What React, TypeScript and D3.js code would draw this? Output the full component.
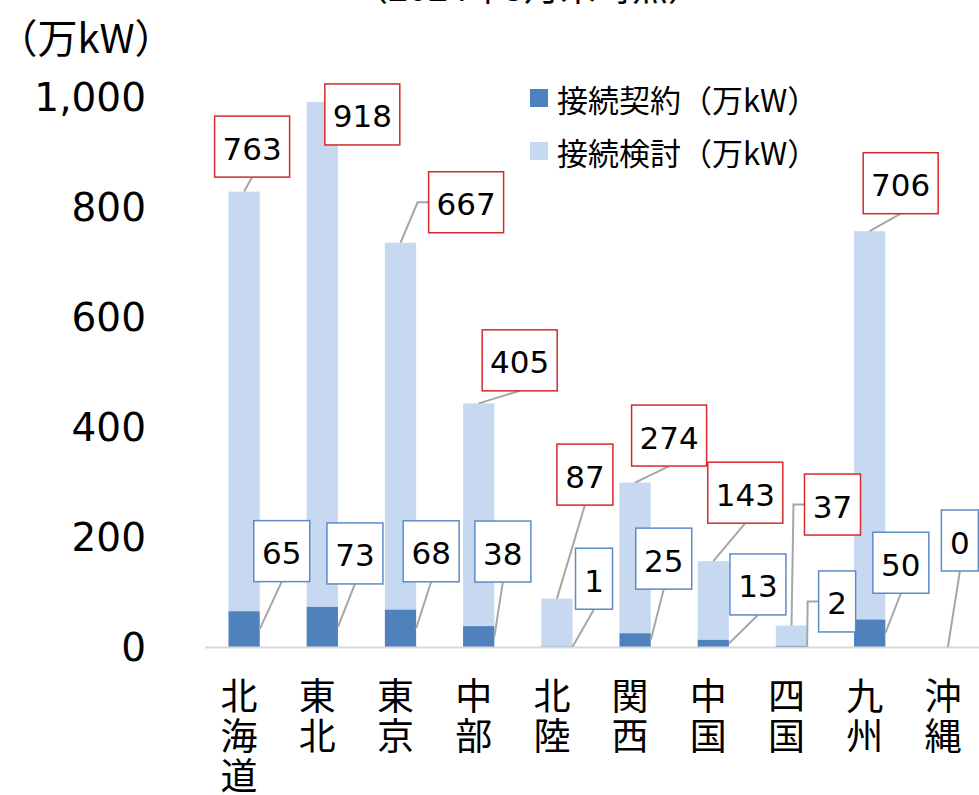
import React from "react";
import * as d3 from "d3";

const categories = ["北海道", "東北", "東京", "中部", "北陸", "関西", "中国", "四国", "九州", "沖縄"];
const contractValues = [65, 73, 68, 38, 1, 25, 13, 2, 50, 0];
const considerValues = [763, 918, 667, 405, 87, 274, 143, 37, 706, 0];
const yTicks = [0, 200, 400, 600, 800, 1000];
const seriesNames = ["接続契約（万kW）", "接続検討（万kW）"];
const titleText = "（2024年3月末時点）";
const yUnit = "（万kW）";

// label layout offsets (box centre relative to anchor), px
const considerOffsets: ([number, number] | null)[] = [
  [8, -45], [40, 12.5], [65.6, -40.5], [41, -43], [28, -124], [34, -47], [32, -68.5], [41, -121], [31, -48], null,
];
const contractOffsets: [number, number][] = [
  [22, -78], [17, -73.5], [15, -77], [8.5, -85], [21.5, -68], [13, -81.5], [29, -59], [30, -45], [15.5, -70.5], [12, -106.5],
];

const W = 979;
const H = 795;
const DARK = "#4f81bd";
const LIGHT = "#c6d9f0";
const RED = "#d42a2a";
const BLUE_BORDER = "#5b8bc9";
const LEADER = "#a6a6a6";

export default function App() {
  const x = d3.scaleBand<string>().domain(categories).range([205, 987]).paddingInner(0.6).paddingOuter(0.3);
  const y = d3.scaleLinear().domain([0, 1000]).range([647, 97]);
  const bw = x.bandwidth();
  const numFmt = d3.format(",");

  type Lbl = { key: string; text: string; ax: number; ay: number; cx: number; cy: number; color: string };
  const labels: Lbl[] = [];
  categories.forEach((c, i) => {
    const cxBar = (x(c) as number) + bw / 2;
    const off = considerOffsets[i];
    if (off) {
      const ax = cxBar;
      const ay = y(contractValues[i] + considerValues[i]);
      labels.push({ key: "t" + i, text: String(considerValues[i]), ax, ay, cx: ax + off[0], cy: ay + off[1], color: RED });
    }
    const o2 = contractOffsets[i];
    const ax2 = contractValues[i] === 0 ? cxBar : cxBar + bw / 2;
    const ay2 = y(contractValues[i] / 2);
    labels.push({ key: "c" + i, text: String(contractValues[i]), ax: ax2, ay: ay2, cx: ax2 + o2[0], cy: ay2 + o2[1], color: BLUE_BORDER });
  });

  const boxH = 61;
  const boxW = (t: string) => t.length * 19 + 18;

  const leaders = labels.map((l) => {
    const w = boxW(l.text);
    const left = l.cx - w / 2;
    const top = l.cy - boxH / 2;
    const bottom = l.cy + boxH / 2;
    if (l.ay <= bottom + 3 && l.ay >= top) return null;
    if (l.ax < left - 8) {
      const ex = left - 11;
      return { key: l.key, d: `M${left},${l.cy}L${ex},${l.cy}L${l.ax},${l.ay}` };
    }
    return { key: l.key, d: `M${l.cx},${bottom}L${l.ax},${l.ay}` };
  });

  return (
    <svg width={W} height={H} style={{ position: "fixed", left: 0, top: 0, background: "#fff" }}>
      <text x={528} y={1} textAnchor="middle" fontFamily="'Noto Sans CJK JP'" fontSize={36} fill="#000">
        {titleText}
      </text>
      <text x={86} y={53} textAnchor="middle" fontFamily="'Noto Sans CJK JP'" fontSize={40} fill="#000">
        {yUnit}
      </text>
      {yTicks.map((t) => (
        <text key={t} x={146} y={y(t)} textAnchor="end" dominantBaseline="central" fontFamily="'DejaVu Sans'" fontSize={39} fill="#000">
          {numFmt(t)}
        </text>
      ))}
      {categories.map((c, i) => {
        const x0 = x(c) as number;
        const yc = y(contractValues[i]);
        const yt = y(contractValues[i] + considerValues[i]);
        return (
          <g key={c}>
            {considerValues[i] > 0 && <rect x={x0} y={yt} width={bw} height={yc - yt} fill={LIGHT} />}
            {contractValues[i] > 0 && <rect x={x0} y={yc} width={bw} height={y(0) - yc} fill={DARK} />}
          </g>
        );
      })}
      <line x1={205} x2={W} y1={y(0) + 0.5} y2={y(0) + 0.5} stroke="#d9d9d9" strokeWidth={2} />
      {leaders.map((l) => l && <path key={l.key} d={l.d} fill="none" stroke={LEADER} strokeWidth={2} />)}
      {labels.map((l) => {
        const w = boxW(l.text);
        return (
          <g key={l.key}>
            <rect x={l.cx - w / 2} y={l.cy - boxH / 2} width={w} height={boxH} fill="#fff" stroke={l.color} strokeWidth={1.5} />
            <text x={l.cx} y={l.cy + 2} textAnchor="middle" dominantBaseline="central" fontFamily="'DejaVu Sans'" fontSize={31} fill="#000">
              {l.text}
            </text>
          </g>
        );
      })}
      {categories.map((c) => {
        const cx = (x(c) as number) + bw / 2 - 5;
        return (
          <text key={c} textAnchor="middle" fontFamily="'Noto Sans CJK JP'" fontSize={37} fill="#000">
            {Array.from(c).map((ch, j) => (
              <tspan key={j} x={cx} y={710 + j * 40}>
                {ch}
              </tspan>
            ))}
          </text>
        );
      })}
      {seriesNames.map((s, i) => {
        const cy = 98 + i * 53;
        return (
          <g key={s}>
            <rect x={530} y={cy - 9} width={18} height={18} fill={i === 0 ? DARK : LIGHT} />
            <text x={557} y={cy} dominantBaseline="central" fontFamily="'Noto Sans CJK JP'" fontSize={31} fill="#000">
              {s}
            </text>
          </g>
        );
      })}
    </svg>
  );
}
